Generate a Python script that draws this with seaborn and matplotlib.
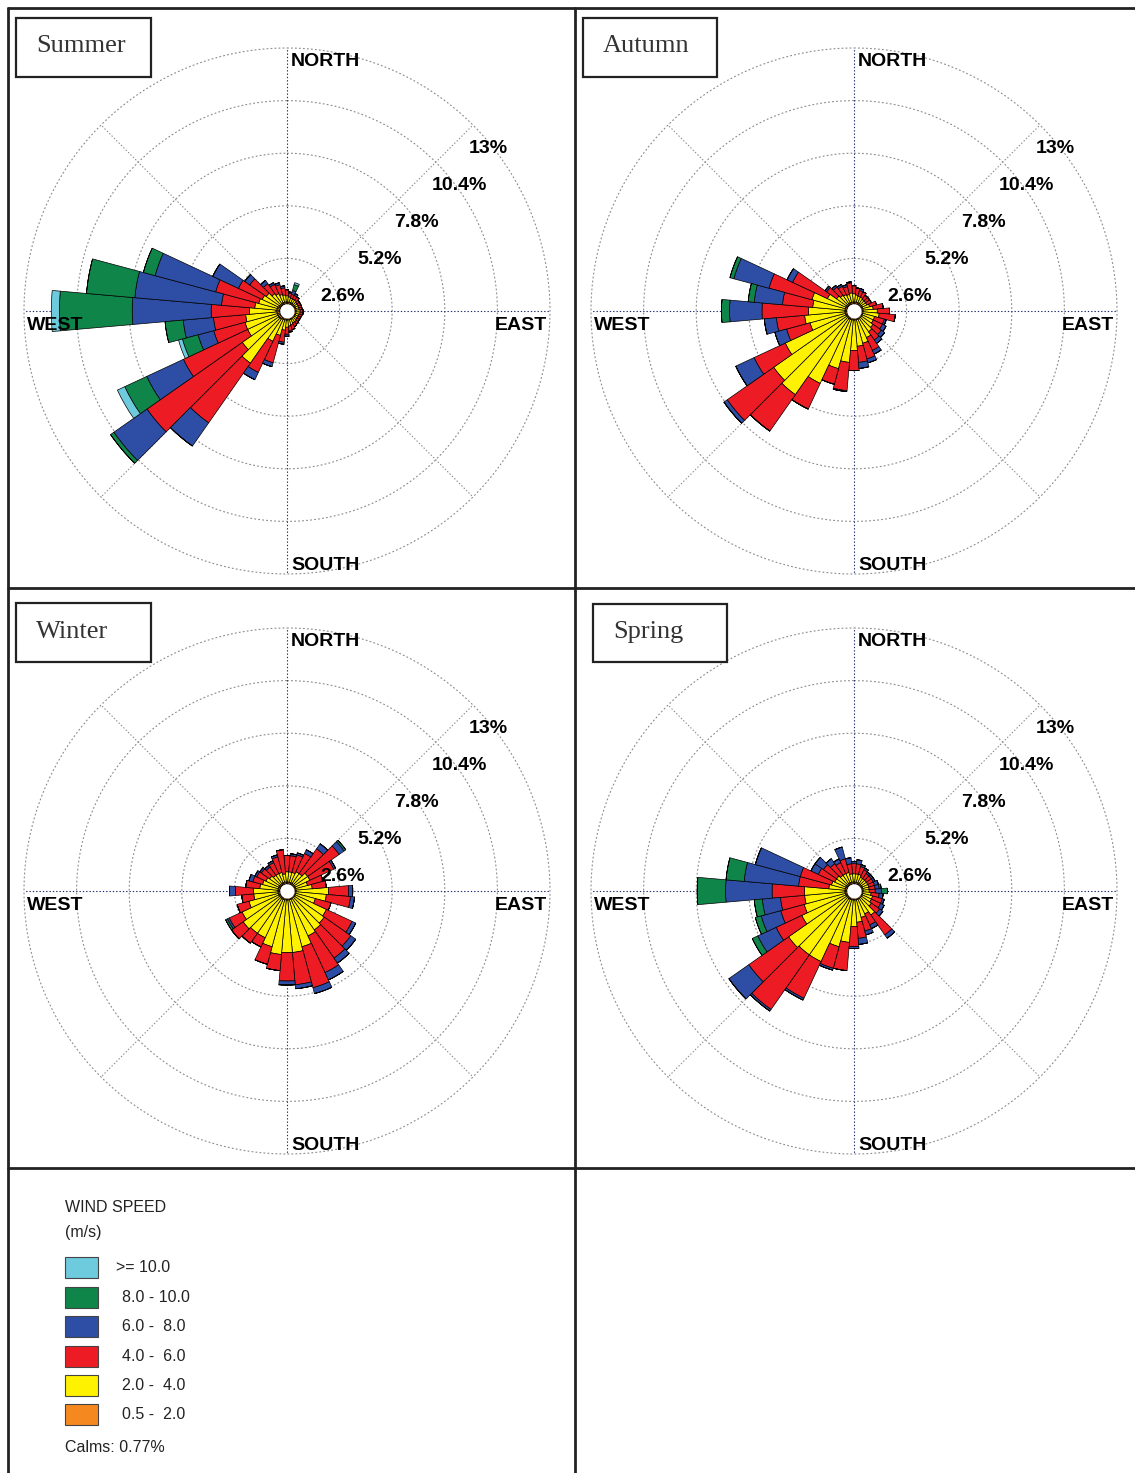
import numpy as np
import matplotlib
matplotlib.use("Agg")
import matplotlib.pyplot as plt
import seaborn as sns
from matplotlib.lines import Line2D
from matplotlib.patches import Rectangle
from matplotlib.transforms import offset_copy

W, H = 1135, 1473

DIRECTIONS = list(range(0, 360, 10))
SPEED_LABELS = ["0.5 -  2.0", "2.0 -  4.0", "4.0 -  6.0", "6.0 -  8.0", "8.0 - 10.0", ">= 10.0"]
SPEED_COLORS = ["#f5891f", "#fff200", "#ed1c24", "#2e4ea6", "#10854a", "#6dcbdd"]
RING_VALUES = [2.6, 5.2, 7.8, 10.4, 13.0]
RING_LABELS = ["2.6%", "5.2%", "7.8%", "10.4%", "13%"]
CALMS = "0.77%"

# frequency (%) per direction, columns: 0.5-2, 2-4, 4-6, 6-8, 8-10, >=10
SUMMER = [
    (.10, .30, .30, .00, .00, .00), (.10, .25, .20, .05, .00, .00), (.10, .20, .20, .20, .30, .10),
    (.10, .20, .20, .10, .00, .00), (.10, .20, .20, .00, .00, .00), (.10, .15, .15, .00, .00, .00),
    (.10, .15, .15, .00, .00, .00), (.10, .15, .15, .00, .00, .00), (.10, .15, .15, .00, .00, .00),
    (.10, .20, .15, .00, .00, .00), (.10, .20, .15, .00, .00, .00), (.10, .15, .15, .00, .00, .00),
    (.10, .15, .15, .00, .00, .00), (.10, .15, .15, .00, .00, .00), (.10, .20, .15, .00, .00, .00),
    (.10, .20, .20, .00, .00, .00), (.10, .25, .25, .00, .00, .00), (.10, .30, .25, .05, .00, .00),
    (.10, .35, .35, .10, .00, .00), (.10, .50, .60, .10, .00, .00), (.10, .80, 1.40, .20, .00, .00),
    (.10, 1.20, 1.70, .40, .00, .00), (.15, 2.65, 3.60, 1.40, .00, .00), (.15, 2.20, 5.75, 2.00, .20, .00),
    (.15, 1.65, 3.50, 2.00, 1.20, .40), (.15, 1.65, 1.60, .80, .80, .20), (.15, 1.55, 1.60, 1.50, .90, .00),
    (.20, 1.30, 1.90, 3.90, 3.60, .40), (.15, 1.10, 1.65, 4.30, 2.40, .00), (.15, .95, 2.20, 3.10, .60, .00),
    (.10, .90, 1.30, 1.40, .00, .00), (.10, .80, 1.00, .30, .00, .00), (.10, .60, .60, .20, .00, .00),
    (.10, .50, .50, .10, .00, .00), (.10, .40, .50, .10, .00, .00), (.10, .35, .35, .10, .00, .00),
]
AUTUMN = [
    (.10, .40, .40, .00, .00, .00), (.10, .35, .35, .00, .00, .00), (.10, .30, .30, .10, .00, .00),
    (.10, .30, .30, .00, .00, .00), (.10, .25, .25, .00, .00, .00), (.10, .25, .25, .00, .00, .00),
    (.10, .25, .25, .00, .00, .00), (.10, .35, .35, .00, .00, .00), (.10, .50, .50, .00, .00, .00),
    (.10, .70, .60, .00, .00, .00), (.10, .80, .80, .00, .00, .00), (.10, .60, .50, .10, .00, .00),
    (.10, .60, .50, .20, .00, .00), (.10, .70, .50, .20, .00, .00), (.10, .80, .50, .20, .00, .00),
    (.10, 1.00, .70, .20, .00, .00), (.10, 1.20, .80, .20, .00, .00), (.10, 1.30, .80, .30, .00, .00),
    (.10, 1.50, 1.00, .00, .00, .00), (.10, 2.10, 1.40, .05, .00, .00), (.10, 2.50, .80, .00, .00, .00),
    (.10, 3.50, 1.40, .00, .00, .00), (.10, 4.60, 2.20, .00, .00, .00), (.10, 4.40, 2.80, .20, .00, .00),
    (.10, 3.30, 1.70, 1.00, .00, .00), (.10, 1.80, 1.20, .60, .00, .00), (.10, 2.00, 1.40, .60, .00, .00),
    (.10, 1.80, 2.30, 1.60, .40, .00), (.10, 1.60, 1.50, 1.40, .30, .00), (.10, 1.70, 2.20, 1.80, .20, .00),
    (.10, 1.00, 1.90, .30, .00, .00), (.10, .60, .60, .10, .00, .00), (.10, .50, .50, .10, .00, .00),
    (.10, .45, .45, .10, .00, .00), (.10, .40, .40, .10, .00, .00), (.10, .45, .50, .05, .00, .00),
]
WINTER = [
    (.10, .50, .80, .00, .00, .00), (.10, .50, .80, .10, .00, .00), (.10, .50, .90, .10, .00, .00),
    (.10, .60, 1.00, .20, .00, .00), (.10, .60, 1.50, .30, .00, .00), (.10, .80, 1.90, .30, .10, .00),
    (.10, .80, 1.30, .10, .00, .00), (.10, .60, .80, .00, .00, .00), (.10, .80, .70, .00, .00, .00),
    (.10, 1.60, 1.00, .20, .00, .00), (.10, 1.50, 1.20, .20, .00, .00), (.10, 1.00, .80, .00, .00, .00),
    (.10, 1.70, 1.40, .20, .00, .00), (.10, 1.80, 1.60, .30, .00, .00), (.10, 1.90, 1.70, .30, .00, .00),
    (.10, 2.00, 2.00, .40, .00, .00), (.10, 2.40, 2.10, .30, .00, .00), (.10, 2.60, 1.60, .20, .00, .00),
    (.10, 2.60, 1.40, .20, .00, .00), (.10, 2.70, .80, .00, .00, .00), (.10, 2.40, .90, .00, .00, .00),
    (.10, 2.10, .50, .00, .00, .00), (.10, 2.10, .60, .00, .00, .00), (.10, 2.20, .70, .00, .00, .00),
    (.10, 2.00, .70, .10, .10, .00), (.10, 1.50, .60, .00, .00, .00), (.10, 1.20, .60, .00, .00, .00),
    (.10, 1.20, .90, .30, .00, .00), (.10, .90, .70, .00, .00, .00), (.10, .80, .50, .20, .00, .00),
    (.10, .70, .50, .10, .00, .00), (.10, .60, .50, .10, .00, .00), (.10, .50, .50, .10, .00, .00),
    (.10, .50, .60, .10, .00, .00), (.10, .50, .80, .10, .00, .00), (.10, .40, 1.20, .00, .00, .00),
]
SPRING = [
    (.10, .40, .50, .10, .00, .00), (.10, .40, .50, .20, .00, .00), (.10, .40, .40, .10, .00, .00),
    (.10, .30, .40, .10, .00, .00), (.10, .30, .30, .10, .00, .00), (.10, .30, .30, .10, .00, .00),
    (.10, .30, .30, .10, .00, .00), (.10, .30, .30, .20, .00, .00), (.10, .30, .30, .20, .10, .00),
    (.10, .30, .30, .30, .30, .00), (.10, .40, .40, .20, .00, .00), (.10, .50, .50, .10, .00, .00),
    (.10, .50, .50, .20, .00, .00), (.10, .60, .50, .20, .00, .00), (.10, 1.00, 1.20, .20, .00, .00),
    (.10, .80, .60, .20, .00, .00), (.10, .90, .70, .20, .00, .00), (.10, 1.10, .80, .30, .00, .00),
    (.10, 1.30, 1.00, .10, .00, .00), (.10, 2.10, 1.40, .00, .00, .00), (.10, 2.40, 1.10, .10, .00, .00),
    (.10, 3.40, 2.00, .10, .00, .00), (.10, 3.40, 3.30, .10, .00, .00), (.10, 3.50, 2.40, 1.20, .00, .00),
    (.10, 2.40, 1.40, 1.00, .30, .00), (.10, 2.10, 1.20, 1.00, .30, .00), (.10, 2.00, 1.20, .90, .40, .00),
    (.10, 2.00, 1.60, 2.30, 1.40, .00), (.10, .80, 1.50, 2.70, .90, .00), (.10, .70, 1.60, 2.30, .00, .00),
    (.10, .60, .90, .40, .00, .00), (.10, .60, .80, .50, .00, .00), (.10, .50, .70, .30, .00, .00),
    (.10, .50, .60, .20, .00, .00), (.10, .50, .70, .60, .00, .00), (.10, .40, .50, .30, .00, .00),
]

sns.set_theme(style="white")
plt.rcParams["font.family"] = ["Liberation Sans", "DejaVu Sans"]
palette = sns.color_palette(SPEED_COLORS)

fig = plt.figure(figsize=(W / 100, H / 100), dpi=100)


def fx(x):
    return x / W


def fy(y):
    return 1 - y / H


LINE = "#222222"
for xs, ys in [((8, 1135), (8, 8)), ((8, 8), (8, 1473)), ((575, 575), (8, 1473)),
               ((8, 1135), (588, 588)), ((8, 1135), (1168, 1168))]:
    fig.add_artist(Line2D([fx(xs[0]), fx(xs[1])], [fy(ys[0]), fy(ys[1])],
                          transform=fig.transFigure, color=LINE, lw=2))

R = 263
HOLE = 0.35
panels = [
    ("Summer", SUMMER, (287, 311), (16, 18, 151, 77)),
    ("Autumn", AUTUMN, (854, 311), (583, 18, 717, 77)),
    ("Winter", WINTER, (287, 891), (16, 603, 151, 662)),
    ("Spring", SPRING, (854, 891), (593, 604, 727, 662)),
]

theta = np.deg2rad(DIRECTIONS)
width = np.deg2rad(10)
circle_t = np.linspace(0, 2 * np.pi, 500)

for name, data, (cx, cy), box in panels:
    ax = fig.add_axes([fx(cx - R), fy(cy + R), 2 * R / W, 2 * R / H], projection="polar")
    ax.set_theta_zero_location("N")
    ax.set_theta_direction(-1)
    ax.set_ylim(0, 13)
    ax.grid(False)
    ax.set_xticks([])
    ax.set_yticks([])
    ax.spines["polar"].set_visible(False)
    ax.patch.set_alpha(0)

    # grid
    for rv in RING_VALUES:
        ax.plot(circle_t, np.full_like(circle_t, rv), color="#8a8a8a", lw=0.8,
                ls=(0, (1.6, 2.0)), zorder=1, clip_on=False)
    for ang in range(0, 360, 45):
        col = "#1f2a6b" if ang % 90 == 0 else "#8a8a8a"
        ax.plot([np.deg2rad(ang)] * 2, [0, 13], color=col, lw=0.8,
                ls=(0, (1.2, 1.8)), zorder=1, clip_on=False)

    # stacked bars
    arr = np.array(data)
    bottom = np.full(len(DIRECTIONS), HOLE)
    for k in range(arr.shape[1]):
        vals = arr[:, k]
        ax.bar(theta, vals, width=width, bottom=bottom, color=palette[k],
               edgecolor="black", linewidth=0.5, zorder=3)
        bottom = bottom + vals

    # calm hole in the middle
    ax.fill_between(circle_t, 0, HOLE, color="white", zorder=4, lw=0)

    # labels
    def lab(t, r, s, dx, dy, ha):
        tr = offset_copy(ax.transData, fig=fig, x=dx, y=dy, units="dots")
        ax.text(t, r, s, transform=tr, ha=ha, va="center", fontsize=14,
                fontweight="bold", color="black", zorder=5, clip_on=False)

    lab(0, 13, "NORTH", 4, -13, "left")
    lab(np.pi, 13, "SOUTH", 4, 9, "left")
    lab(1.5 * np.pi, 13, "WEST", 3, -15, "left")
    lab(0.5 * np.pi, 13, "EAST", -3, -15, "right")
    for rv, rl in zip(RING_VALUES, RING_LABELS):
        lab(np.deg2rad(45), rv, rl, -4, -23, "left")

    # title box
    x0, y0, x1, y1 = box
    fig.add_artist(Rectangle((fx(x0), fy(y1)), (x1 - x0) / W, (y1 - y0) / H,
                             transform=fig.transFigure, fill=False, lw=1.6, edgecolor=LINE))
    fig.text(fx(x0 + 20), fy((y0 + y1) / 2 - 1), name, family="Liberation Serif",
             fontsize=19, color="#333333", va="center", ha="left")

# legend
fig.text(fx(65), fy(1208), "WIND SPEED", fontsize=11.5, color="#222222", va="center")
fig.text(fx(65), fy(1232), "(m/s)", fontsize=11.5, color="#222222", va="center")
legend_rows = [(5, 1257, 116), (4, 1287, 122), (3, 1316, 122), (2, 1346, 122), (1, 1375, 122), (0, 1404, 122)]
for k, ytop, tx in legend_rows:
    fig.add_artist(Rectangle((fx(65), fy(ytop + 21)), 33 / W, 21 / H, transform=fig.transFigure,
                             facecolor=palette[k], edgecolor="#444444", lw=0.8))
    fig.text(fx(tx), fy(ytop + 10.5), SPEED_LABELS[k], fontsize=11.5, color="#222222", va="center")
fig.text(fx(65), fy(1448), "Calms: " + CALMS, fontsize=11.5, color="#222222", va="center")

fig.savefig("out.png", dpi=100)
